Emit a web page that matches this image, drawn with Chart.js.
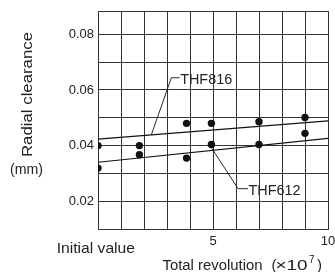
<!DOCTYPE html>
<html>
<head>
<meta charset="utf-8">
<script src="https://cdn.jsdelivr.net/npm/chart.js@4"></script>
<style>
  html, body { margin: 0; padding: 0; background: #fff; }
  #wrap { width: 335px; height: 272px; }
</style>
</head>
<body>
<div id="wrap"><canvas id="chart" width="335" height="272"></canvas></div>
<script>
// measured points (total revolution x10^7, radial clearance mm)
var revs = [0, 1.8, 3.85, 4.93, 7.0, 9.0];
var thf816 = [0.040, 0.040, 0.048, 0.048, 0.0486, 0.0501];
var thf612 = [0.0319, 0.0367, 0.0355, 0.0404, 0.0404, 0.0444];

// trend lines
var fitX = [0, 10];
var fit816 = [0.0423, 0.0489];
var fit612 = [0.0340, 0.0426];

// leader lines for the two labels
var lead816X = [2.32, 3.19, 3.55];
var lead816Y = [0.0439, 0.0644, 0.0644];
var lead612X = [4.95, 6.09, 6.52];
var lead612Y = [0.0390, 0.0245, 0.0245];

var yGrid = [0.01, 0.02, 0.03, 0.04, 0.05, 0.06, 0.07, 0.08, 0.0884];
var yLabels = [0.02, 0.04, 0.06, 0.08];
var xLabels = [5, 10];

var FONT = '"Liberation Sans", Arial, Helvetica, sans-serif';
var INK = '#222';

function pts(xs, ys) {
  return xs.map(function (x, i) { return { x: x, y: ys[i] }; });
}

function drawText(ctx, text, x, y, size, width) {
  ctx.save();
  ctx.font = size + 'px ' + FONT;
  ctx.fillStyle = INK;
  ctx.textAlign = 'left';
  ctx.textBaseline = 'alphabetic';
  var w = ctx.measureText(text).width;
  ctx.translate(x, y);
  if (width) ctx.scale(width / w, 1);
  ctx.fillText(text, 0, 0);
  ctx.restore();
}

var textPlugin = {
  id: 'texts',
  afterDraw: function (chart) {
    var ctx = chart.ctx;
    var xs = chart.scales.x, ys = chart.scales.y;

    // y axis title, rotated
    ctx.save();
    ctx.font = '15px ' + FONT;
    ctx.fillStyle = INK;
    ctx.textAlign = 'center';
    ctx.textBaseline = 'middle';
    var w = ctx.measureText('Radial clearance').width;
    ctx.translate(28, 94.5);
    ctx.rotate(-Math.PI / 2);
    ctx.scale(125 / w, 1);
    ctx.fillText('Radial clearance', 0, 0);
    ctx.restore();

    drawText(ctx, '(mm)', 10, 174, 14, 33);
    drawText(ctx, 'Initial value', 56.7, 253.3, 15, 78.3);
    drawText(ctx, 'Total revolution', 162.5, 269.5, 15, 100);
    drawText(ctx, '(', 271.5, 269.5, 15);
    drawText(ctx, '\u00d710', 275.5, 269.5, 15, 32);
    drawText(ctx, '7', 309, 263, 10);
    drawText(ctx, ')', 317, 269.5, 15);

    // series labels at the end of the leader lines
    var e1 = lead816X.length - 1, e2 = lead612X.length - 1;
    drawText(ctx, 'THF816', xs.getPixelForValue(lead816X[e1]) + 0.5,
      ys.getPixelForValue(lead816Y[e1]) + 6, 14, 52);
    drawText(ctx, 'THF612', xs.getPixelForValue(lead612X[e2]) + 0.5,
      ys.getPixelForValue(lead612Y[e2]) + 6.5, 14, 52);
  }
};

var lineStyle = { showLine: true, pointRadius: 0, borderColor: '#111', backgroundColor: '#111', fill: false };

new Chart(document.getElementById('chart').getContext('2d'), {
  type: 'scatter',
  data: {
    datasets: [
      Object.assign({ data: pts(fitX, fit816), borderWidth: 1.2 }, lineStyle),
      Object.assign({ data: pts(fitX, fit612), borderWidth: 1.2 }, lineStyle),
      Object.assign({ data: pts(lead816X, lead816Y), borderWidth: 0.9 }, lineStyle),
      Object.assign({ data: pts(lead612X, lead612Y), borderWidth: 0.9 }, lineStyle),
      { label: 'THF816', data: pts(revs, thf816), pointRadius: 3.7, pointBackgroundColor: '#111', pointBorderWidth: 0 },
      { label: 'THF612', data: pts(revs, thf612), pointRadius: 3.7, pointBackgroundColor: '#111', pointBorderWidth: 0 }
    ]
  },
  options: {
    responsive: false,
    animation: false,
    events: [],
    layout: { padding: { top: 11, right: 7, left: 0, bottom: 0 } },
    plugins: { legend: { display: false }, tooltip: { enabled: false } },
    scales: {
      x: {
        type: 'linear', min: 0, max: 10,
        afterFit: function (s) { s.height = 43; s.paddingLeft = 0; s.paddingRight = 0; },
        afterBuildTicks: function (s) {
          s.ticks = [0, 1, 2, 3, 4, 5, 6, 7, 8, 9, 10].map(function (v) { return { value: v }; });
        },
        ticks: {
          autoSkip: false, maxRotation: 0, padding: 5, color: INK,
          font: { family: FONT, size: 13 },
          callback: function (v) { return xLabels.indexOf(v) >= 0 ? String(v) : ''; }
        },
        grid: { color: '#333', lineWidth: 1, drawTicks: false },
        border: { color: '#333', width: 1 }
      },
      y: {
        type: 'linear', min: 0.01, max: 0.0884,
        afterFit: function (s) { s.width = 98; s.paddingTop = 0; s.paddingBottom = 0; },
        afterBuildTicks: function (s) {
          s.ticks = yGrid.map(function (v) { return { value: v }; });
        },
        ticks: {
          autoSkip: false, padding: 4, color: INK,
          font: { family: FONT, size: 13 },
          callback: function (v) {
            for (var i = 0; i < yLabels.length; i++) {
              if (Math.abs(v - yLabels[i]) < 1e-6) return yLabels[i].toFixed(2);
            }
            return '';
          }
        },
        grid: { color: '#333', lineWidth: 1, drawTicks: false },
        border: { color: '#333', width: 1 }
      }
    }
  },
  plugins: [textPlugin]
});
</script>
</body>
</html>
